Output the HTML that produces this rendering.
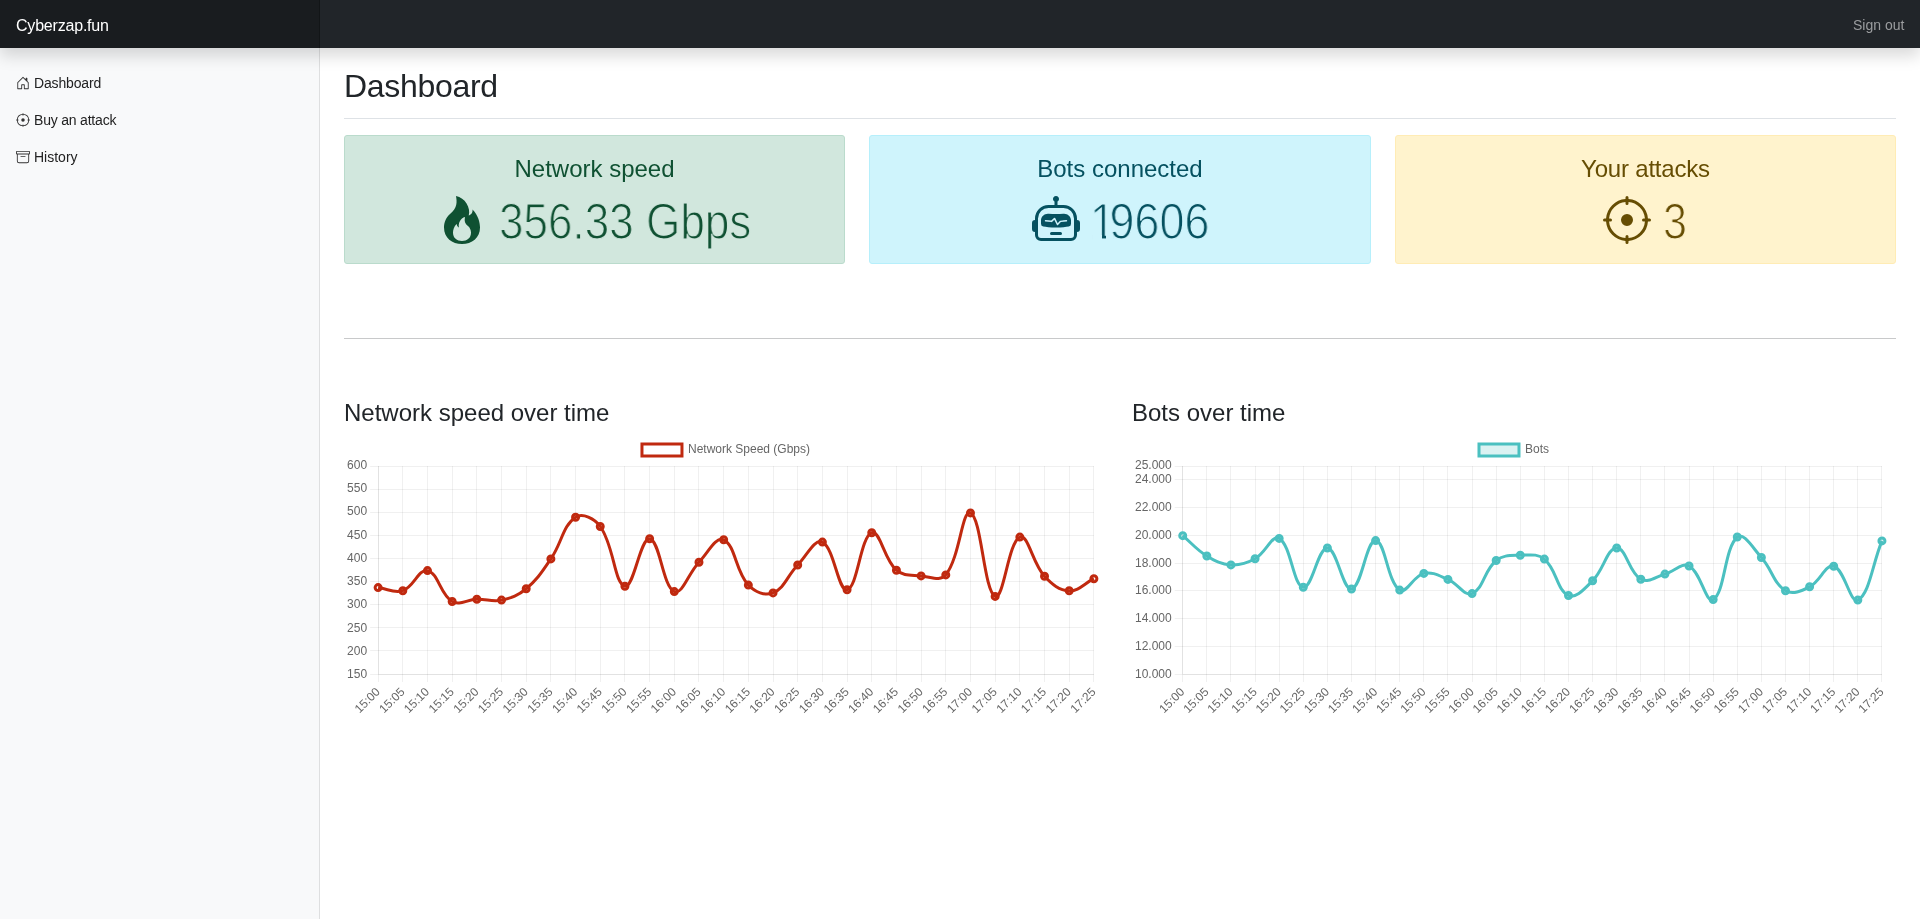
<!DOCTYPE html>
<html><head><meta charset="utf-8"><title>Dashboard</title>
<style>
html,body{margin:0;padding:0;}
body{width:1920px;height:919px;overflow:hidden;position:relative;background:#fff;font-family:"Liberation Sans",sans-serif;color:#212529;}
.t{position:absolute;white-space:nowrap;line-height:1;will-change:transform;}
.ic{position:absolute;display:block;}
.num{transform-origin:0 0;}
#nav{position:absolute;left:0;top:0;width:1920px;height:48px;background:#212529;box-shadow:0 8px 16px rgba(0,0,0,.15);z-index:10;}
#brand{position:absolute;left:0;top:0;width:320px;height:48px;background:#191c1f;box-shadow:inset -1px 0 0 rgba(0,0,0,.25);}
#side{position:absolute;left:0;top:0;width:320px;height:919px;background:#f8f9fa;box-shadow:inset -1px 0 0 rgba(0,0,0,.1);z-index:1;}
.al{position:absolute;top:135px;height:127px;border:1px solid;border-radius:3px;box-sizing:content-box;}
.al .h{position:absolute;left:0;right:0;text-align:center;font-size:24px;line-height:1;top:20.8px;white-space:nowrap;will-change:transform;}
#charts{will-change:transform;position:absolute;left:0;top:0;width:1920px;height:919px;z-index:2;font-family:"Liberation Sans",sans-serif;font-size:12px;fill:#666;}
</style></head><body>
<div id="nav"><div id="brand"></div>
<div class="t" style="left:15.5px;top:17.7px;font-size:16px;color:#fff;letter-spacing:-0.2px;">Cyberzap.fun</div>
<div class="t" style="right:15.7px;top:18.15px;font-size:14px;color:#9b9d9f;">Sign out</div>
</div>
<div id="side">
<svg class="ic" style="left:16.0px;top:76.0px;width:14px;height:14px" viewBox="0 0 16 16" fill="#333"><path d="M8.354 1.146a.5.5 0 0 0-.708 0l-6 6A.5.5 0 0 0 1.5 7.5v7a.5.5 0 0 0 .5.5h4.5a.5.5 0 0 0 .5-.5v-4h2v4a.5.5 0 0 0 .5.5H14a.5.5 0 0 0 .5-.5v-7a.5.5 0 0 0-.146-.354L13 5.793V2.5a.5.5 0 0 0-.5-.5h-1a.5.5 0 0 0-.5.5v1.293zM2.5 14V7.707l5.5-5.5 5.5 5.5V14H10v-4a.5.5 0 0 0-.5-.5h-3a.5.5 0 0 0-.5.5v4z"/></svg>
<svg class="ic" style="left:16.0px;top:113.0px;width:14px;height:14px" viewBox="0 0 16 16" fill="#333"><path d="M8.5.5a.5.5 0 0 0-1 0v.518A7 7 0 0 0 1.018 7.5H.5a.5.5 0 0 0 0 1h.518A7 7 0 0 0 7.5 14.982v.518a.5.5 0 0 0 1 0v-.518A7 7 0 0 0 14.982 8.5h.518a.5.5 0 0 0 0-1h-.518A7 7 0 0 0 8.5 1.018zm-6.48 7A6 6 0 0 1 7.5 2.02v.48a.5.5 0 0 0 1 0v-.48a6 6 0 0 1 5.48 5.48h-.48a.5.5 0 0 0 0 1h.48a6 6 0 0 1-5.48 5.48v-.48a.5.5 0 0 0-1 0v.48A6 6 0 0 1 2.02 8.5h.48a.5.5 0 0 0 0-1zM8 10a2 2 0 1 0 0-4 2 2 0 0 0 0 4"/></svg>
<svg class="ic" style="left:16.0px;top:150.0px;width:14px;height:14px" viewBox="0 0 16 16" fill="#333"><path d="M0 2a1 1 0 0 1 1-1h14a1 1 0 0 1 1 1v2a1 1 0 0 1-1 1v7.5a2.5 2.5 0 0 1-2.5 2.5h-9A2.5 2.5 0 0 1 1 12.5V5a1 1 0 0 1-1-1zm2 3v7.5A1.5 1.5 0 0 0 3.5 14h9a1.5 1.5 0 0 0 1.5-1.5V5zm13-3H1v2h14zM5 7.5a.5.5 0 0 1 .5-.5h5a.5.5 0 0 1 0 1h-5a.5.5 0 0 1-.5-.5"/></svg>
<div class="t" style="left:33.5px;top:75.95px;font-size:14px;color:#222;letter-spacing:-0.15px;">Dashboard</div>
<div class="t" style="left:33.5px;top:112.75px;font-size:14px;color:#222;letter-spacing:-0.2px;">Buy an attack</div>
<div class="t" style="left:33.5px;top:150.05px;font-size:14px;color:#222;">History</div>
</div>
<div class="t" style="left:344px;top:69.9px;font-size:32px;color:#212529;letter-spacing:-0.3px;">Dashboard</div>
<div style="position:absolute;left:344px;top:118px;width:1552px;height:1px;background:#dee2e6;"></div>

<div class="al" style="left:344px;width:499px;background:#d1e7dd;border-color:#badbcc;color:#0f5132;"><div class="h">Network speed</div></div>
<div class="al" style="left:869px;width:500px;background:#cff4fc;border-color:#b6effb;color:#055160;"><div class="h">Bots connected</div></div>
<div class="al" style="left:1395px;width:499px;background:#fff3cd;border-color:#ffecb5;color:#664d03;"><div class="h" style="letter-spacing:-0.2px">Your attacks</div></div>
<svg class="ic" style="left:437.7px;top:196px;width:48px;height:48px" viewBox="0 0 16 16" fill="#0f5132"><path d="M8 16c3.314 0 6-2 6-5.5 0-1.5-.5-4-2.5-6 .25 1.5-1.25 2-1.25 2C11 4 9 .5 6 0c.357 2 .5 4-2 6-1.25 1-2 2.729-2 4.5C2 14 4.686 16 8 16m0-1c-1.657 0-3-1-3-2.75 0-.75.25-2 1.25-3C6.125 10 7 10.5 7 10.5c-.375-1.25.5-3.25 2-3.5-.179 1-.25 2 1 3 .625.5 1 1.364 1 2.25C11 14 9.657 15 8 15"/></svg>
<svg class="ic" style="left:1031.6px;top:196px;width:48px;height:48px" viewBox="0 0 16 16" fill="#055160"><path d="M6 12.5a.5.5 0 0 1 .5-.5h3a.5.5 0 0 1 0 1h-3a.5.5 0 0 1-.5-.5M3 8.062C3 6.76 4.235 5.765 5.53 5.886a26.6 26.6 0 0 0 4.94 0C11.765 5.765 13 6.76 13 8.062v1.157a.93.93 0 0 1-.765.935c-.845.147-2.34.346-4.235.346s-3.39-.2-4.235-.346A.93.93 0 0 1 3 9.219zm4.542-.827a.25.25 0 0 0-.217.068l-.92.9a25 25 0 0 1-1.871-.183.25.25 0 0 0-.068.495c.55.076 1.232.149 2.02.193a.25.25 0 0 0 .189-.071l.754-.736.847 1.71a.25.25 0 0 0 .404.062l.932-.97a25 25 0 0 0 1.922-.188.25.25 0 0 0-.068-.495c-.538.074-1.207.145-1.98.189a.25.25 0 0 0-.166.076l-.754.785-.842-1.7a.25.25 0 0 0-.182-.135"/><path d="M8.5 1.866a1 1 0 1 0-1 0V3h-2A4.5 4.5 0 0 0 1 7.5V8a1 1 0 0 0-1 1v2a1 1 0 0 0 1 1v1a2 2 0 0 0 2 2h10a2 2 0 0 0 2-2v-1a1 1 0 0 0 1-1V9a1 1 0 0 0-1-1v-.5A4.5 4.5 0 0 0 10.5 3h-2zM14 7.5V13a1 1 0 0 1-1 1H3a1 1 0 0 1-1-1V7.5A3.5 3.5 0 0 1 5.5 4h5A3.5 3.5 0 0 1 14 7.5"/></svg>
<svg class="ic" style="left:1602.7px;top:196px;width:48px;height:48px" viewBox="0 0 16 16" fill="#664d03"><path d="M8.5.5a.5.5 0 0 0-1 0v.518A7 7 0 0 0 1.018 7.5H.5a.5.5 0 0 0 0 1h.518A7 7 0 0 0 7.5 14.982v.518a.5.5 0 0 0 1 0v-.518A7 7 0 0 0 14.982 8.5h.518a.5.5 0 0 0 0-1h-.518A7 7 0 0 0 8.5 1.018zm-6.48 7A6 6 0 0 1 7.5 2.02v.48a.5.5 0 0 0 1 0v-.48a6 6 0 0 1 5.48 5.48h-.48a.5.5 0 0 0 0 1h.48a6 6 0 0 1-5.48 5.48v-.48a.5.5 0 0 0-1 0v.48A6 6 0 0 1 2.02 8.5h.48a.5.5 0 0 0 0-1zM8 10a2 2 0 1 0 0-4 2 2 0 0 0 0 4"/></svg>
<div class="t num" id="n1" style="left:498.9px;top:196.5px;font-size:49.5px;color:#0f5132;transform:scaleX(0.890);-webkit-text-stroke:1.2px #d1e7dd;">356.33 Gbps</div>
<div class="t num" id="n2" style="left:1090.2px;top:196.5px;font-size:49.5px;color:#055160;transform:scaleX(0.91);-webkit-text-stroke:1.2px #cff4fc;"><span style="letter-spacing:-6.4px">1</span>9606</div>
<div style="position:absolute;left:1093px;top:235.3px;width:8.8px;height:4.5px;background:#cff4fc;z-index:3"></div><div style="position:absolute;left:1105.7px;top:235.3px;width:7px;height:4.5px;background:#cff4fc;z-index:3"></div>
<div class="t num" id="n3" style="left:1662.8px;top:196.5px;font-size:49.5px;color:#664d03;transform:scaleX(0.87);-webkit-text-stroke:1.2px #fff3cd;">3</div>

<div style="position:absolute;left:344px;top:338px;width:1552px;height:1px;background:#c8c9ca;"></div>
<div class="t" style="left:344px;top:400.7px;font-size:24px;color:#212529;">Network speed over time</div>
<div class="t" style="left:1132px;top:400.7px;font-size:24px;color:#212529;">Bots over time</div>
<svg id="charts" width="1920" height="919" viewBox="0 0 1920 919">
<line x1="370.1" y1="466.5" x2="1093.88" y2="466.5" stroke="rgba(0,0,0,0.06)" stroke-width="1"/>
<line x1="370.1" y1="489.5" x2="1093.88" y2="489.5" stroke="rgba(0,0,0,0.06)" stroke-width="1"/>
<line x1="370.1" y1="512.5" x2="1093.88" y2="512.5" stroke="rgba(0,0,0,0.06)" stroke-width="1"/>
<line x1="370.1" y1="535.5" x2="1093.88" y2="535.5" stroke="rgba(0,0,0,0.06)" stroke-width="1"/>
<line x1="370.1" y1="558.5" x2="1093.88" y2="558.5" stroke="rgba(0,0,0,0.06)" stroke-width="1"/>
<line x1="370.1" y1="581.5" x2="1093.88" y2="581.5" stroke="rgba(0,0,0,0.06)" stroke-width="1"/>
<line x1="370.1" y1="604.5" x2="1093.88" y2="604.5" stroke="rgba(0,0,0,0.06)" stroke-width="1"/>
<line x1="370.1" y1="627.5" x2="1093.88" y2="627.5" stroke="rgba(0,0,0,0.06)" stroke-width="1"/>
<line x1="370.1" y1="650.5" x2="1093.88" y2="650.5" stroke="rgba(0,0,0,0.06)" stroke-width="1"/>
<line x1="370.1" y1="674.5" x2="1093.88" y2="674.5" stroke="rgba(0,0,0,0.06)" stroke-width="1"/>
<line x1="378.5" y1="466.0" x2="378.5" y2="682.0" stroke="rgba(0,0,0,0.06)" stroke-width="1"/>
<line x1="402.5" y1="466.0" x2="402.5" y2="682.0" stroke="rgba(0,0,0,0.06)" stroke-width="1"/>
<line x1="427.5" y1="466.0" x2="427.5" y2="682.0" stroke="rgba(0,0,0,0.06)" stroke-width="1"/>
<line x1="452.5" y1="466.0" x2="452.5" y2="682.0" stroke="rgba(0,0,0,0.06)" stroke-width="1"/>
<line x1="476.5" y1="466.0" x2="476.5" y2="682.0" stroke="rgba(0,0,0,0.06)" stroke-width="1"/>
<line x1="501.5" y1="466.0" x2="501.5" y2="682.0" stroke="rgba(0,0,0,0.06)" stroke-width="1"/>
<line x1="526.5" y1="466.0" x2="526.5" y2="682.0" stroke="rgba(0,0,0,0.06)" stroke-width="1"/>
<line x1="550.5" y1="466.0" x2="550.5" y2="682.0" stroke="rgba(0,0,0,0.06)" stroke-width="1"/>
<line x1="575.5" y1="466.0" x2="575.5" y2="682.0" stroke="rgba(0,0,0,0.06)" stroke-width="1"/>
<line x1="600.5" y1="466.0" x2="600.5" y2="682.0" stroke="rgba(0,0,0,0.06)" stroke-width="1"/>
<line x1="624.5" y1="466.0" x2="624.5" y2="682.0" stroke="rgba(0,0,0,0.06)" stroke-width="1"/>
<line x1="649.5" y1="466.0" x2="649.5" y2="682.0" stroke="rgba(0,0,0,0.06)" stroke-width="1"/>
<line x1="674.5" y1="466.0" x2="674.5" y2="682.0" stroke="rgba(0,0,0,0.06)" stroke-width="1"/>
<line x1="698.5" y1="466.0" x2="698.5" y2="682.0" stroke="rgba(0,0,0,0.06)" stroke-width="1"/>
<line x1="723.5" y1="466.0" x2="723.5" y2="682.0" stroke="rgba(0,0,0,0.06)" stroke-width="1"/>
<line x1="748.5" y1="466.0" x2="748.5" y2="682.0" stroke="rgba(0,0,0,0.06)" stroke-width="1"/>
<line x1="773.5" y1="466.0" x2="773.5" y2="682.0" stroke="rgba(0,0,0,0.06)" stroke-width="1"/>
<line x1="797.5" y1="466.0" x2="797.5" y2="682.0" stroke="rgba(0,0,0,0.06)" stroke-width="1"/>
<line x1="822.5" y1="466.0" x2="822.5" y2="682.0" stroke="rgba(0,0,0,0.06)" stroke-width="1"/>
<line x1="847.5" y1="466.0" x2="847.5" y2="682.0" stroke="rgba(0,0,0,0.06)" stroke-width="1"/>
<line x1="871.5" y1="466.0" x2="871.5" y2="682.0" stroke="rgba(0,0,0,0.06)" stroke-width="1"/>
<line x1="896.5" y1="466.0" x2="896.5" y2="682.0" stroke="rgba(0,0,0,0.06)" stroke-width="1"/>
<line x1="921.5" y1="466.0" x2="921.5" y2="682.0" stroke="rgba(0,0,0,0.06)" stroke-width="1"/>
<line x1="945.5" y1="466.0" x2="945.5" y2="682.0" stroke="rgba(0,0,0,0.06)" stroke-width="1"/>
<line x1="970.5" y1="466.0" x2="970.5" y2="682.0" stroke="rgba(0,0,0,0.06)" stroke-width="1"/>
<line x1="995.5" y1="466.0" x2="995.5" y2="682.0" stroke="rgba(0,0,0,0.06)" stroke-width="1"/>
<line x1="1019.5" y1="466.0" x2="1019.5" y2="682.0" stroke="rgba(0,0,0,0.06)" stroke-width="1"/>
<line x1="1044.5" y1="466.0" x2="1044.5" y2="682.0" stroke="rgba(0,0,0,0.06)" stroke-width="1"/>
<line x1="1069.5" y1="466.0" x2="1069.5" y2="682.0" stroke="rgba(0,0,0,0.06)" stroke-width="1"/>
<line x1="1093.5" y1="466.0" x2="1093.5" y2="682.0" stroke="rgba(0,0,0,0.06)" stroke-width="1"/>
<line x1="378.5" y1="466.0" x2="378.5" y2="674.0" stroke="rgba(0,0,0,0.06)" stroke-width="1"/>
<line x1="378.12" y1="674.5" x2="1093.88" y2="674.5" stroke="rgba(0,0,0,0.06)" stroke-width="1"/>
<text x="367.12" y="468.95" text-anchor="end">600</text>
<text x="367.12" y="492.19" text-anchor="end">550</text>
<text x="367.12" y="515.44" text-anchor="end">500</text>
<text x="367.12" y="538.68" text-anchor="end">450</text>
<text x="367.12" y="561.93" text-anchor="end">400</text>
<text x="367.12" y="585.17" text-anchor="end">350</text>
<text x="367.12" y="608.42" text-anchor="end">300</text>
<text x="367.12" y="631.66" text-anchor="end">250</text>
<text x="367.12" y="654.91" text-anchor="end">200</text>
<text x="367.12" y="678.15" text-anchor="end">150</text>
<text transform="translate(377.62,689.40) rotate(-45)" text-anchor="end" y="4.3">15:00</text>
<text transform="translate(402.30,689.40) rotate(-45)" text-anchor="end" y="4.3">15:05</text>
<text transform="translate(426.98,689.40) rotate(-45)" text-anchor="end" y="4.3">15:10</text>
<text transform="translate(451.66,689.40) rotate(-45)" text-anchor="end" y="4.3">15:15</text>
<text transform="translate(476.35,689.40) rotate(-45)" text-anchor="end" y="4.3">15:20</text>
<text transform="translate(501.03,689.40) rotate(-45)" text-anchor="end" y="4.3">15:25</text>
<text transform="translate(525.71,689.40) rotate(-45)" text-anchor="end" y="4.3">15:30</text>
<text transform="translate(550.39,689.40) rotate(-45)" text-anchor="end" y="4.3">15:35</text>
<text transform="translate(575.07,689.40) rotate(-45)" text-anchor="end" y="4.3">15:40</text>
<text transform="translate(599.75,689.40) rotate(-45)" text-anchor="end" y="4.3">15:45</text>
<text transform="translate(624.43,689.40) rotate(-45)" text-anchor="end" y="4.3">15:50</text>
<text transform="translate(649.12,689.40) rotate(-45)" text-anchor="end" y="4.3">15:55</text>
<text transform="translate(673.80,689.40) rotate(-45)" text-anchor="end" y="4.3">16:00</text>
<text transform="translate(698.48,689.40) rotate(-45)" text-anchor="end" y="4.3">16:05</text>
<text transform="translate(723.16,689.40) rotate(-45)" text-anchor="end" y="4.3">16:10</text>
<text transform="translate(747.84,689.40) rotate(-45)" text-anchor="end" y="4.3">16:15</text>
<text transform="translate(772.52,689.40) rotate(-45)" text-anchor="end" y="4.3">16:20</text>
<text transform="translate(797.20,689.40) rotate(-45)" text-anchor="end" y="4.3">16:25</text>
<text transform="translate(821.88,689.40) rotate(-45)" text-anchor="end" y="4.3">16:30</text>
<text transform="translate(846.57,689.40) rotate(-45)" text-anchor="end" y="4.3">16:35</text>
<text transform="translate(871.25,689.40) rotate(-45)" text-anchor="end" y="4.3">16:40</text>
<text transform="translate(895.93,689.40) rotate(-45)" text-anchor="end" y="4.3">16:45</text>
<text transform="translate(920.61,689.40) rotate(-45)" text-anchor="end" y="4.3">16:50</text>
<text transform="translate(945.29,689.40) rotate(-45)" text-anchor="end" y="4.3">16:55</text>
<text transform="translate(969.97,689.40) rotate(-45)" text-anchor="end" y="4.3">17:00</text>
<text transform="translate(994.65,689.40) rotate(-45)" text-anchor="end" y="4.3">17:05</text>
<text transform="translate(1019.34,689.40) rotate(-45)" text-anchor="end" y="4.3">17:10</text>
<text transform="translate(1044.02,689.40) rotate(-45)" text-anchor="end" y="4.3">17:15</text>
<text transform="translate(1068.70,689.40) rotate(-45)" text-anchor="end" y="4.3">17:20</text>
<text transform="translate(1093.38,689.40) rotate(-45)" text-anchor="end" y="4.3">17:25</text>
<rect x="641.97" y="444.0" width="40" height="12" fill="rgba(255,255,255,0)" stroke="#c0290f" stroke-width="3"/>
<text x="687.97" y="453.30">Network Speed (Gbps)</text>
<path d="M378.12,587.60C387.99,588.84 394.14,593.68 402.80,590.70C413.88,586.88 418.68,568.67 427.48,570.60C438.42,572.99 440.03,594.47 452.16,601.50C459.77,605.91 466.95,599.48 476.85,599.20C486.70,598.92 492.12,602.09 501.53,600.10C511.87,597.91 518.07,595.54 526.21,588.75C537.81,579.06 542.12,571.61 550.89,558.90C561.86,542.99 562.79,525.59 575.57,517.20C582.53,512.63 594.53,518.50 600.25,526.50C614.27,546.10 614.13,583.51 624.93,586.20C633.87,588.43 640.17,537.77 649.62,538.80C659.92,539.93 662.39,585.96 674.30,591.60C682.14,595.32 688.41,573.29 698.98,562.20C708.15,552.57 715.91,536.20 723.66,539.80C735.65,545.36 735.19,570.96 748.34,585.10C754.94,592.20 764.93,596.20 773.02,592.90C784.67,588.16 787.33,575.67 797.70,565.00C807.08,555.35 814.77,538.29 822.38,542.10C834.51,548.17 837.92,591.44 847.07,589.70C857.66,587.68 860.29,537.23 871.75,532.70C880.03,529.43 883.81,559.15 896.43,570.20C903.55,576.43 911.11,574.95 921.11,575.90C930.86,576.83 940.46,581.71 945.79,574.90C960.20,556.51 961.91,509.17 970.47,512.90C981.65,517.77 983.79,590.83 995.15,596.40C1003.54,600.51 1008.36,541.77 1019.84,537.10C1028.11,533.73 1032.31,563.02 1044.52,576.30C1052.06,584.50 1059.13,590.31 1069.20,590.80C1078.87,591.27 1084.01,583.54 1093.88,578.70" fill="none" stroke="#c0290f" stroke-width="3"/>
<circle cx="378.12" cy="587.60" r="3" fill="rgba(255,255,255,0)" stroke="#c0290f" stroke-width="3"/>
<circle cx="402.80" cy="590.70" r="3" fill="rgba(255,255,255,0)" stroke="#c0290f" stroke-width="3"/>
<circle cx="427.48" cy="570.60" r="3" fill="rgba(255,255,255,0)" stroke="#c0290f" stroke-width="3"/>
<circle cx="452.16" cy="601.50" r="3" fill="rgba(255,255,255,0)" stroke="#c0290f" stroke-width="3"/>
<circle cx="476.85" cy="599.20" r="3" fill="rgba(255,255,255,0)" stroke="#c0290f" stroke-width="3"/>
<circle cx="501.53" cy="600.10" r="3" fill="rgba(255,255,255,0)" stroke="#c0290f" stroke-width="3"/>
<circle cx="526.21" cy="588.75" r="3" fill="rgba(255,255,255,0)" stroke="#c0290f" stroke-width="3"/>
<circle cx="550.89" cy="558.90" r="3" fill="rgba(255,255,255,0)" stroke="#c0290f" stroke-width="3"/>
<circle cx="575.57" cy="517.20" r="3" fill="rgba(255,255,255,0)" stroke="#c0290f" stroke-width="3"/>
<circle cx="600.25" cy="526.50" r="3" fill="rgba(255,255,255,0)" stroke="#c0290f" stroke-width="3"/>
<circle cx="624.93" cy="586.20" r="3" fill="rgba(255,255,255,0)" stroke="#c0290f" stroke-width="3"/>
<circle cx="649.62" cy="538.80" r="3" fill="rgba(255,255,255,0)" stroke="#c0290f" stroke-width="3"/>
<circle cx="674.30" cy="591.60" r="3" fill="rgba(255,255,255,0)" stroke="#c0290f" stroke-width="3"/>
<circle cx="698.98" cy="562.20" r="3" fill="rgba(255,255,255,0)" stroke="#c0290f" stroke-width="3"/>
<circle cx="723.66" cy="539.80" r="3" fill="rgba(255,255,255,0)" stroke="#c0290f" stroke-width="3"/>
<circle cx="748.34" cy="585.10" r="3" fill="rgba(255,255,255,0)" stroke="#c0290f" stroke-width="3"/>
<circle cx="773.02" cy="592.90" r="3" fill="rgba(255,255,255,0)" stroke="#c0290f" stroke-width="3"/>
<circle cx="797.70" cy="565.00" r="3" fill="rgba(255,255,255,0)" stroke="#c0290f" stroke-width="3"/>
<circle cx="822.38" cy="542.10" r="3" fill="rgba(255,255,255,0)" stroke="#c0290f" stroke-width="3"/>
<circle cx="847.07" cy="589.70" r="3" fill="rgba(255,255,255,0)" stroke="#c0290f" stroke-width="3"/>
<circle cx="871.75" cy="532.70" r="3" fill="rgba(255,255,255,0)" stroke="#c0290f" stroke-width="3"/>
<circle cx="896.43" cy="570.20" r="3" fill="rgba(255,255,255,0)" stroke="#c0290f" stroke-width="3"/>
<circle cx="921.11" cy="575.90" r="3" fill="rgba(255,255,255,0)" stroke="#c0290f" stroke-width="3"/>
<circle cx="945.79" cy="574.90" r="3" fill="rgba(255,255,255,0)" stroke="#c0290f" stroke-width="3"/>
<circle cx="970.47" cy="512.90" r="3" fill="rgba(255,255,255,0)" stroke="#c0290f" stroke-width="3"/>
<circle cx="995.15" cy="596.40" r="3" fill="rgba(255,255,255,0)" stroke="#c0290f" stroke-width="3"/>
<circle cx="1019.84" cy="537.10" r="3" fill="rgba(255,255,255,0)" stroke="#c0290f" stroke-width="3"/>
<circle cx="1044.52" cy="576.30" r="3" fill="rgba(255,255,255,0)" stroke="#c0290f" stroke-width="3"/>
<circle cx="1069.20" cy="590.80" r="3" fill="rgba(255,255,255,0)" stroke="#c0290f" stroke-width="3"/>
<circle cx="1093.88" cy="578.70" r="3" fill="rgba(255,255,255,0)" stroke="#c0290f" stroke-width="3"/>
<line x1="1174.7" y1="466.5" x2="1881.94" y2="466.5" stroke="rgba(0,0,0,0.06)" stroke-width="1"/>
<line x1="1174.7" y1="479.5" x2="1881.94" y2="479.5" stroke="rgba(0,0,0,0.06)" stroke-width="1"/>
<line x1="1174.7" y1="507.5" x2="1881.94" y2="507.5" stroke="rgba(0,0,0,0.06)" stroke-width="1"/>
<line x1="1174.7" y1="535.5" x2="1881.94" y2="535.5" stroke="rgba(0,0,0,0.06)" stroke-width="1"/>
<line x1="1174.7" y1="563.5" x2="1881.94" y2="563.5" stroke="rgba(0,0,0,0.06)" stroke-width="1"/>
<line x1="1174.7" y1="590.5" x2="1881.94" y2="590.5" stroke="rgba(0,0,0,0.06)" stroke-width="1"/>
<line x1="1174.7" y1="618.5" x2="1881.94" y2="618.5" stroke="rgba(0,0,0,0.06)" stroke-width="1"/>
<line x1="1174.7" y1="646.5" x2="1881.94" y2="646.5" stroke="rgba(0,0,0,0.06)" stroke-width="1"/>
<line x1="1174.7" y1="674.5" x2="1881.94" y2="674.5" stroke="rgba(0,0,0,0.06)" stroke-width="1"/>
<line x1="1182.5" y1="466.0" x2="1182.5" y2="682.0" stroke="rgba(0,0,0,0.06)" stroke-width="1"/>
<line x1="1206.5" y1="466.0" x2="1206.5" y2="682.0" stroke="rgba(0,0,0,0.06)" stroke-width="1"/>
<line x1="1230.5" y1="466.0" x2="1230.5" y2="682.0" stroke="rgba(0,0,0,0.06)" stroke-width="1"/>
<line x1="1255.5" y1="466.0" x2="1255.5" y2="682.0" stroke="rgba(0,0,0,0.06)" stroke-width="1"/>
<line x1="1279.5" y1="466.0" x2="1279.5" y2="682.0" stroke="rgba(0,0,0,0.06)" stroke-width="1"/>
<line x1="1303.5" y1="466.0" x2="1303.5" y2="682.0" stroke="rgba(0,0,0,0.06)" stroke-width="1"/>
<line x1="1327.5" y1="466.0" x2="1327.5" y2="682.0" stroke="rgba(0,0,0,0.06)" stroke-width="1"/>
<line x1="1351.5" y1="466.0" x2="1351.5" y2="682.0" stroke="rgba(0,0,0,0.06)" stroke-width="1"/>
<line x1="1375.5" y1="466.0" x2="1375.5" y2="682.0" stroke="rgba(0,0,0,0.06)" stroke-width="1"/>
<line x1="1399.5" y1="466.0" x2="1399.5" y2="682.0" stroke="rgba(0,0,0,0.06)" stroke-width="1"/>
<line x1="1423.5" y1="466.0" x2="1423.5" y2="682.0" stroke="rgba(0,0,0,0.06)" stroke-width="1"/>
<line x1="1447.5" y1="466.0" x2="1447.5" y2="682.0" stroke="rgba(0,0,0,0.06)" stroke-width="1"/>
<line x1="1472.5" y1="466.0" x2="1472.5" y2="682.0" stroke="rgba(0,0,0,0.06)" stroke-width="1"/>
<line x1="1496.5" y1="466.0" x2="1496.5" y2="682.0" stroke="rgba(0,0,0,0.06)" stroke-width="1"/>
<line x1="1520.5" y1="466.0" x2="1520.5" y2="682.0" stroke="rgba(0,0,0,0.06)" stroke-width="1"/>
<line x1="1544.5" y1="466.0" x2="1544.5" y2="682.0" stroke="rgba(0,0,0,0.06)" stroke-width="1"/>
<line x1="1568.5" y1="466.0" x2="1568.5" y2="682.0" stroke="rgba(0,0,0,0.06)" stroke-width="1"/>
<line x1="1592.5" y1="466.0" x2="1592.5" y2="682.0" stroke="rgba(0,0,0,0.06)" stroke-width="1"/>
<line x1="1616.5" y1="466.0" x2="1616.5" y2="682.0" stroke="rgba(0,0,0,0.06)" stroke-width="1"/>
<line x1="1640.5" y1="466.0" x2="1640.5" y2="682.0" stroke="rgba(0,0,0,0.06)" stroke-width="1"/>
<line x1="1664.5" y1="466.0" x2="1664.5" y2="682.0" stroke="rgba(0,0,0,0.06)" stroke-width="1"/>
<line x1="1689.5" y1="466.0" x2="1689.5" y2="682.0" stroke="rgba(0,0,0,0.06)" stroke-width="1"/>
<line x1="1713.5" y1="466.0" x2="1713.5" y2="682.0" stroke="rgba(0,0,0,0.06)" stroke-width="1"/>
<line x1="1737.5" y1="466.0" x2="1737.5" y2="682.0" stroke="rgba(0,0,0,0.06)" stroke-width="1"/>
<line x1="1761.5" y1="466.0" x2="1761.5" y2="682.0" stroke="rgba(0,0,0,0.06)" stroke-width="1"/>
<line x1="1785.5" y1="466.0" x2="1785.5" y2="682.0" stroke="rgba(0,0,0,0.06)" stroke-width="1"/>
<line x1="1809.5" y1="466.0" x2="1809.5" y2="682.0" stroke="rgba(0,0,0,0.06)" stroke-width="1"/>
<line x1="1833.5" y1="466.0" x2="1833.5" y2="682.0" stroke="rgba(0,0,0,0.06)" stroke-width="1"/>
<line x1="1857.5" y1="466.0" x2="1857.5" y2="682.0" stroke="rgba(0,0,0,0.06)" stroke-width="1"/>
<line x1="1881.5" y1="466.0" x2="1881.5" y2="682.0" stroke="rgba(0,0,0,0.06)" stroke-width="1"/>
<line x1="1182.5" y1="466.0" x2="1182.5" y2="674.0" stroke="rgba(0,0,0,0.06)" stroke-width="1"/>
<line x1="1182.73" y1="674.5" x2="1881.94" y2="674.5" stroke="rgba(0,0,0,0.06)" stroke-width="1"/>
<text x="1171.73" y="468.95" text-anchor="end">25.000</text>
<text x="1171.73" y="482.90" text-anchor="end">24.000</text>
<text x="1171.73" y="510.79" text-anchor="end">22.000</text>
<text x="1171.73" y="538.68" text-anchor="end">20.000</text>
<text x="1171.73" y="566.58" text-anchor="end">18.000</text>
<text x="1171.73" y="594.47" text-anchor="end">16.000</text>
<text x="1171.73" y="622.36" text-anchor="end">14.000</text>
<text x="1171.73" y="650.26" text-anchor="end">12.000</text>
<text x="1171.73" y="678.15" text-anchor="end">10.000</text>
<text transform="translate(1182.23,689.40) rotate(-45)" text-anchor="end" y="4.3">15:00</text>
<text transform="translate(1206.34,689.40) rotate(-45)" text-anchor="end" y="4.3">15:05</text>
<text transform="translate(1230.45,689.40) rotate(-45)" text-anchor="end" y="4.3">15:10</text>
<text transform="translate(1254.56,689.40) rotate(-45)" text-anchor="end" y="4.3">15:15</text>
<text transform="translate(1278.67,689.40) rotate(-45)" text-anchor="end" y="4.3">15:20</text>
<text transform="translate(1302.78,689.40) rotate(-45)" text-anchor="end" y="4.3">15:25</text>
<text transform="translate(1326.89,689.40) rotate(-45)" text-anchor="end" y="4.3">15:30</text>
<text transform="translate(1351.00,689.40) rotate(-45)" text-anchor="end" y="4.3">15:35</text>
<text transform="translate(1375.12,689.40) rotate(-45)" text-anchor="end" y="4.3">15:40</text>
<text transform="translate(1399.23,689.40) rotate(-45)" text-anchor="end" y="4.3">15:45</text>
<text transform="translate(1423.34,689.40) rotate(-45)" text-anchor="end" y="4.3">15:50</text>
<text transform="translate(1447.45,689.40) rotate(-45)" text-anchor="end" y="4.3">15:55</text>
<text transform="translate(1471.56,689.40) rotate(-45)" text-anchor="end" y="4.3">16:00</text>
<text transform="translate(1495.67,689.40) rotate(-45)" text-anchor="end" y="4.3">16:05</text>
<text transform="translate(1519.78,689.40) rotate(-45)" text-anchor="end" y="4.3">16:10</text>
<text transform="translate(1543.89,689.40) rotate(-45)" text-anchor="end" y="4.3">16:15</text>
<text transform="translate(1568.00,689.40) rotate(-45)" text-anchor="end" y="4.3">16:20</text>
<text transform="translate(1592.11,689.40) rotate(-45)" text-anchor="end" y="4.3">16:25</text>
<text transform="translate(1616.22,689.40) rotate(-45)" text-anchor="end" y="4.3">16:30</text>
<text transform="translate(1640.33,689.40) rotate(-45)" text-anchor="end" y="4.3">16:35</text>
<text transform="translate(1664.44,689.40) rotate(-45)" text-anchor="end" y="4.3">16:40</text>
<text transform="translate(1688.55,689.40) rotate(-45)" text-anchor="end" y="4.3">16:45</text>
<text transform="translate(1712.67,689.40) rotate(-45)" text-anchor="end" y="4.3">16:50</text>
<text transform="translate(1736.78,689.40) rotate(-45)" text-anchor="end" y="4.3">16:55</text>
<text transform="translate(1760.89,689.40) rotate(-45)" text-anchor="end" y="4.3">17:00</text>
<text transform="translate(1785.00,689.40) rotate(-45)" text-anchor="end" y="4.3">17:05</text>
<text transform="translate(1809.11,689.40) rotate(-45)" text-anchor="end" y="4.3">17:10</text>
<text transform="translate(1833.22,689.40) rotate(-45)" text-anchor="end" y="4.3">17:15</text>
<text transform="translate(1857.33,689.40) rotate(-45)" text-anchor="end" y="4.3">17:20</text>
<text transform="translate(1881.44,689.40) rotate(-45)" text-anchor="end" y="4.3">17:25</text>
<rect x="1478.99" y="444.0" width="40" height="12" fill="rgba(75,192,192,0.2)" stroke="rgb(75,192,192)" stroke-width="3"/>
<text x="1524.99" y="453.30">Bots</text>
<path d="M1182.73,535.65C1192.37,543.79 1196.21,549.55 1206.84,556.00C1215.50,561.25 1221.15,564.33 1230.95,564.90C1240.44,565.45 1246.56,563.47 1255.06,558.80C1265.85,552.87 1272.09,534.23 1279.17,538.40C1291.38,545.59 1292.83,585.12 1303.28,587.20C1312.12,588.96 1317.91,547.65 1327.39,548.00C1337.20,548.37 1342.48,590.39 1351.50,589.00C1361.77,587.43 1366.06,540.38 1375.62,540.60C1385.35,540.82 1387.14,581.54 1399.73,590.10C1406.43,594.66 1413.39,575.72 1423.84,573.40C1432.68,571.44 1438.88,575.60 1447.95,579.40C1458.16,583.68 1464.23,596.67 1472.06,593.60C1483.52,589.11 1484.13,570.06 1496.17,560.50C1503.42,554.74 1510.58,555.58 1520.28,555.30C1529.87,555.02 1537.47,553.33 1544.39,559.10C1556.76,569.41 1556.80,590.26 1568.50,595.50C1576.09,598.90 1584.69,588.50 1592.61,580.70C1603.98,569.50 1606.94,548.28 1616.72,548.00C1626.23,547.72 1628.96,572.87 1640.83,579.30C1648.25,583.31 1655.45,576.72 1664.94,574.10C1674.74,571.40 1681.71,562.12 1689.05,566.00C1701.00,572.32 1705.81,604.02 1713.17,599.60C1725.10,592.42 1724.17,548.44 1737.28,537.00C1743.46,531.60 1752.99,548.15 1761.39,557.50C1772.28,569.63 1773.41,583.35 1785.50,590.70C1792.69,595.07 1801.21,591.06 1809.61,586.80C1820.50,581.28 1825.38,563.95 1833.72,566.25C1844.66,569.27 1850.23,604.10 1857.83,600.10C1869.52,593.96 1872.30,564.58 1881.94,540.90" fill="none" stroke="rgb(75,192,192)" stroke-width="3"/>
<circle cx="1182.73" cy="535.65" r="3" fill="rgba(75,192,192,0.2)" stroke="rgb(75,192,192)" stroke-width="3"/>
<circle cx="1206.84" cy="556.00" r="3" fill="rgba(75,192,192,0.2)" stroke="rgb(75,192,192)" stroke-width="3"/>
<circle cx="1230.95" cy="564.90" r="3" fill="rgba(75,192,192,0.2)" stroke="rgb(75,192,192)" stroke-width="3"/>
<circle cx="1255.06" cy="558.80" r="3" fill="rgba(75,192,192,0.2)" stroke="rgb(75,192,192)" stroke-width="3"/>
<circle cx="1279.17" cy="538.40" r="3" fill="rgba(75,192,192,0.2)" stroke="rgb(75,192,192)" stroke-width="3"/>
<circle cx="1303.28" cy="587.20" r="3" fill="rgba(75,192,192,0.2)" stroke="rgb(75,192,192)" stroke-width="3"/>
<circle cx="1327.39" cy="548.00" r="3" fill="rgba(75,192,192,0.2)" stroke="rgb(75,192,192)" stroke-width="3"/>
<circle cx="1351.50" cy="589.00" r="3" fill="rgba(75,192,192,0.2)" stroke="rgb(75,192,192)" stroke-width="3"/>
<circle cx="1375.62" cy="540.60" r="3" fill="rgba(75,192,192,0.2)" stroke="rgb(75,192,192)" stroke-width="3"/>
<circle cx="1399.73" cy="590.10" r="3" fill="rgba(75,192,192,0.2)" stroke="rgb(75,192,192)" stroke-width="3"/>
<circle cx="1423.84" cy="573.40" r="3" fill="rgba(75,192,192,0.2)" stroke="rgb(75,192,192)" stroke-width="3"/>
<circle cx="1447.95" cy="579.40" r="3" fill="rgba(75,192,192,0.2)" stroke="rgb(75,192,192)" stroke-width="3"/>
<circle cx="1472.06" cy="593.60" r="3" fill="rgba(75,192,192,0.2)" stroke="rgb(75,192,192)" stroke-width="3"/>
<circle cx="1496.17" cy="560.50" r="3" fill="rgba(75,192,192,0.2)" stroke="rgb(75,192,192)" stroke-width="3"/>
<circle cx="1520.28" cy="555.30" r="3" fill="rgba(75,192,192,0.2)" stroke="rgb(75,192,192)" stroke-width="3"/>
<circle cx="1544.39" cy="559.10" r="3" fill="rgba(75,192,192,0.2)" stroke="rgb(75,192,192)" stroke-width="3"/>
<circle cx="1568.50" cy="595.50" r="3" fill="rgba(75,192,192,0.2)" stroke="rgb(75,192,192)" stroke-width="3"/>
<circle cx="1592.61" cy="580.70" r="3" fill="rgba(75,192,192,0.2)" stroke="rgb(75,192,192)" stroke-width="3"/>
<circle cx="1616.72" cy="548.00" r="3" fill="rgba(75,192,192,0.2)" stroke="rgb(75,192,192)" stroke-width="3"/>
<circle cx="1640.83" cy="579.30" r="3" fill="rgba(75,192,192,0.2)" stroke="rgb(75,192,192)" stroke-width="3"/>
<circle cx="1664.94" cy="574.10" r="3" fill="rgba(75,192,192,0.2)" stroke="rgb(75,192,192)" stroke-width="3"/>
<circle cx="1689.05" cy="566.00" r="3" fill="rgba(75,192,192,0.2)" stroke="rgb(75,192,192)" stroke-width="3"/>
<circle cx="1713.17" cy="599.60" r="3" fill="rgba(75,192,192,0.2)" stroke="rgb(75,192,192)" stroke-width="3"/>
<circle cx="1737.28" cy="537.00" r="3" fill="rgba(75,192,192,0.2)" stroke="rgb(75,192,192)" stroke-width="3"/>
<circle cx="1761.39" cy="557.50" r="3" fill="rgba(75,192,192,0.2)" stroke="rgb(75,192,192)" stroke-width="3"/>
<circle cx="1785.50" cy="590.70" r="3" fill="rgba(75,192,192,0.2)" stroke="rgb(75,192,192)" stroke-width="3"/>
<circle cx="1809.61" cy="586.80" r="3" fill="rgba(75,192,192,0.2)" stroke="rgb(75,192,192)" stroke-width="3"/>
<circle cx="1833.72" cy="566.25" r="3" fill="rgba(75,192,192,0.2)" stroke="rgb(75,192,192)" stroke-width="3"/>
<circle cx="1857.83" cy="600.10" r="3" fill="rgba(75,192,192,0.2)" stroke="rgb(75,192,192)" stroke-width="3"/>
<circle cx="1881.94" cy="540.90" r="3" fill="rgba(75,192,192,0.2)" stroke="rgb(75,192,192)" stroke-width="3"/>
</svg>
</body></html>
